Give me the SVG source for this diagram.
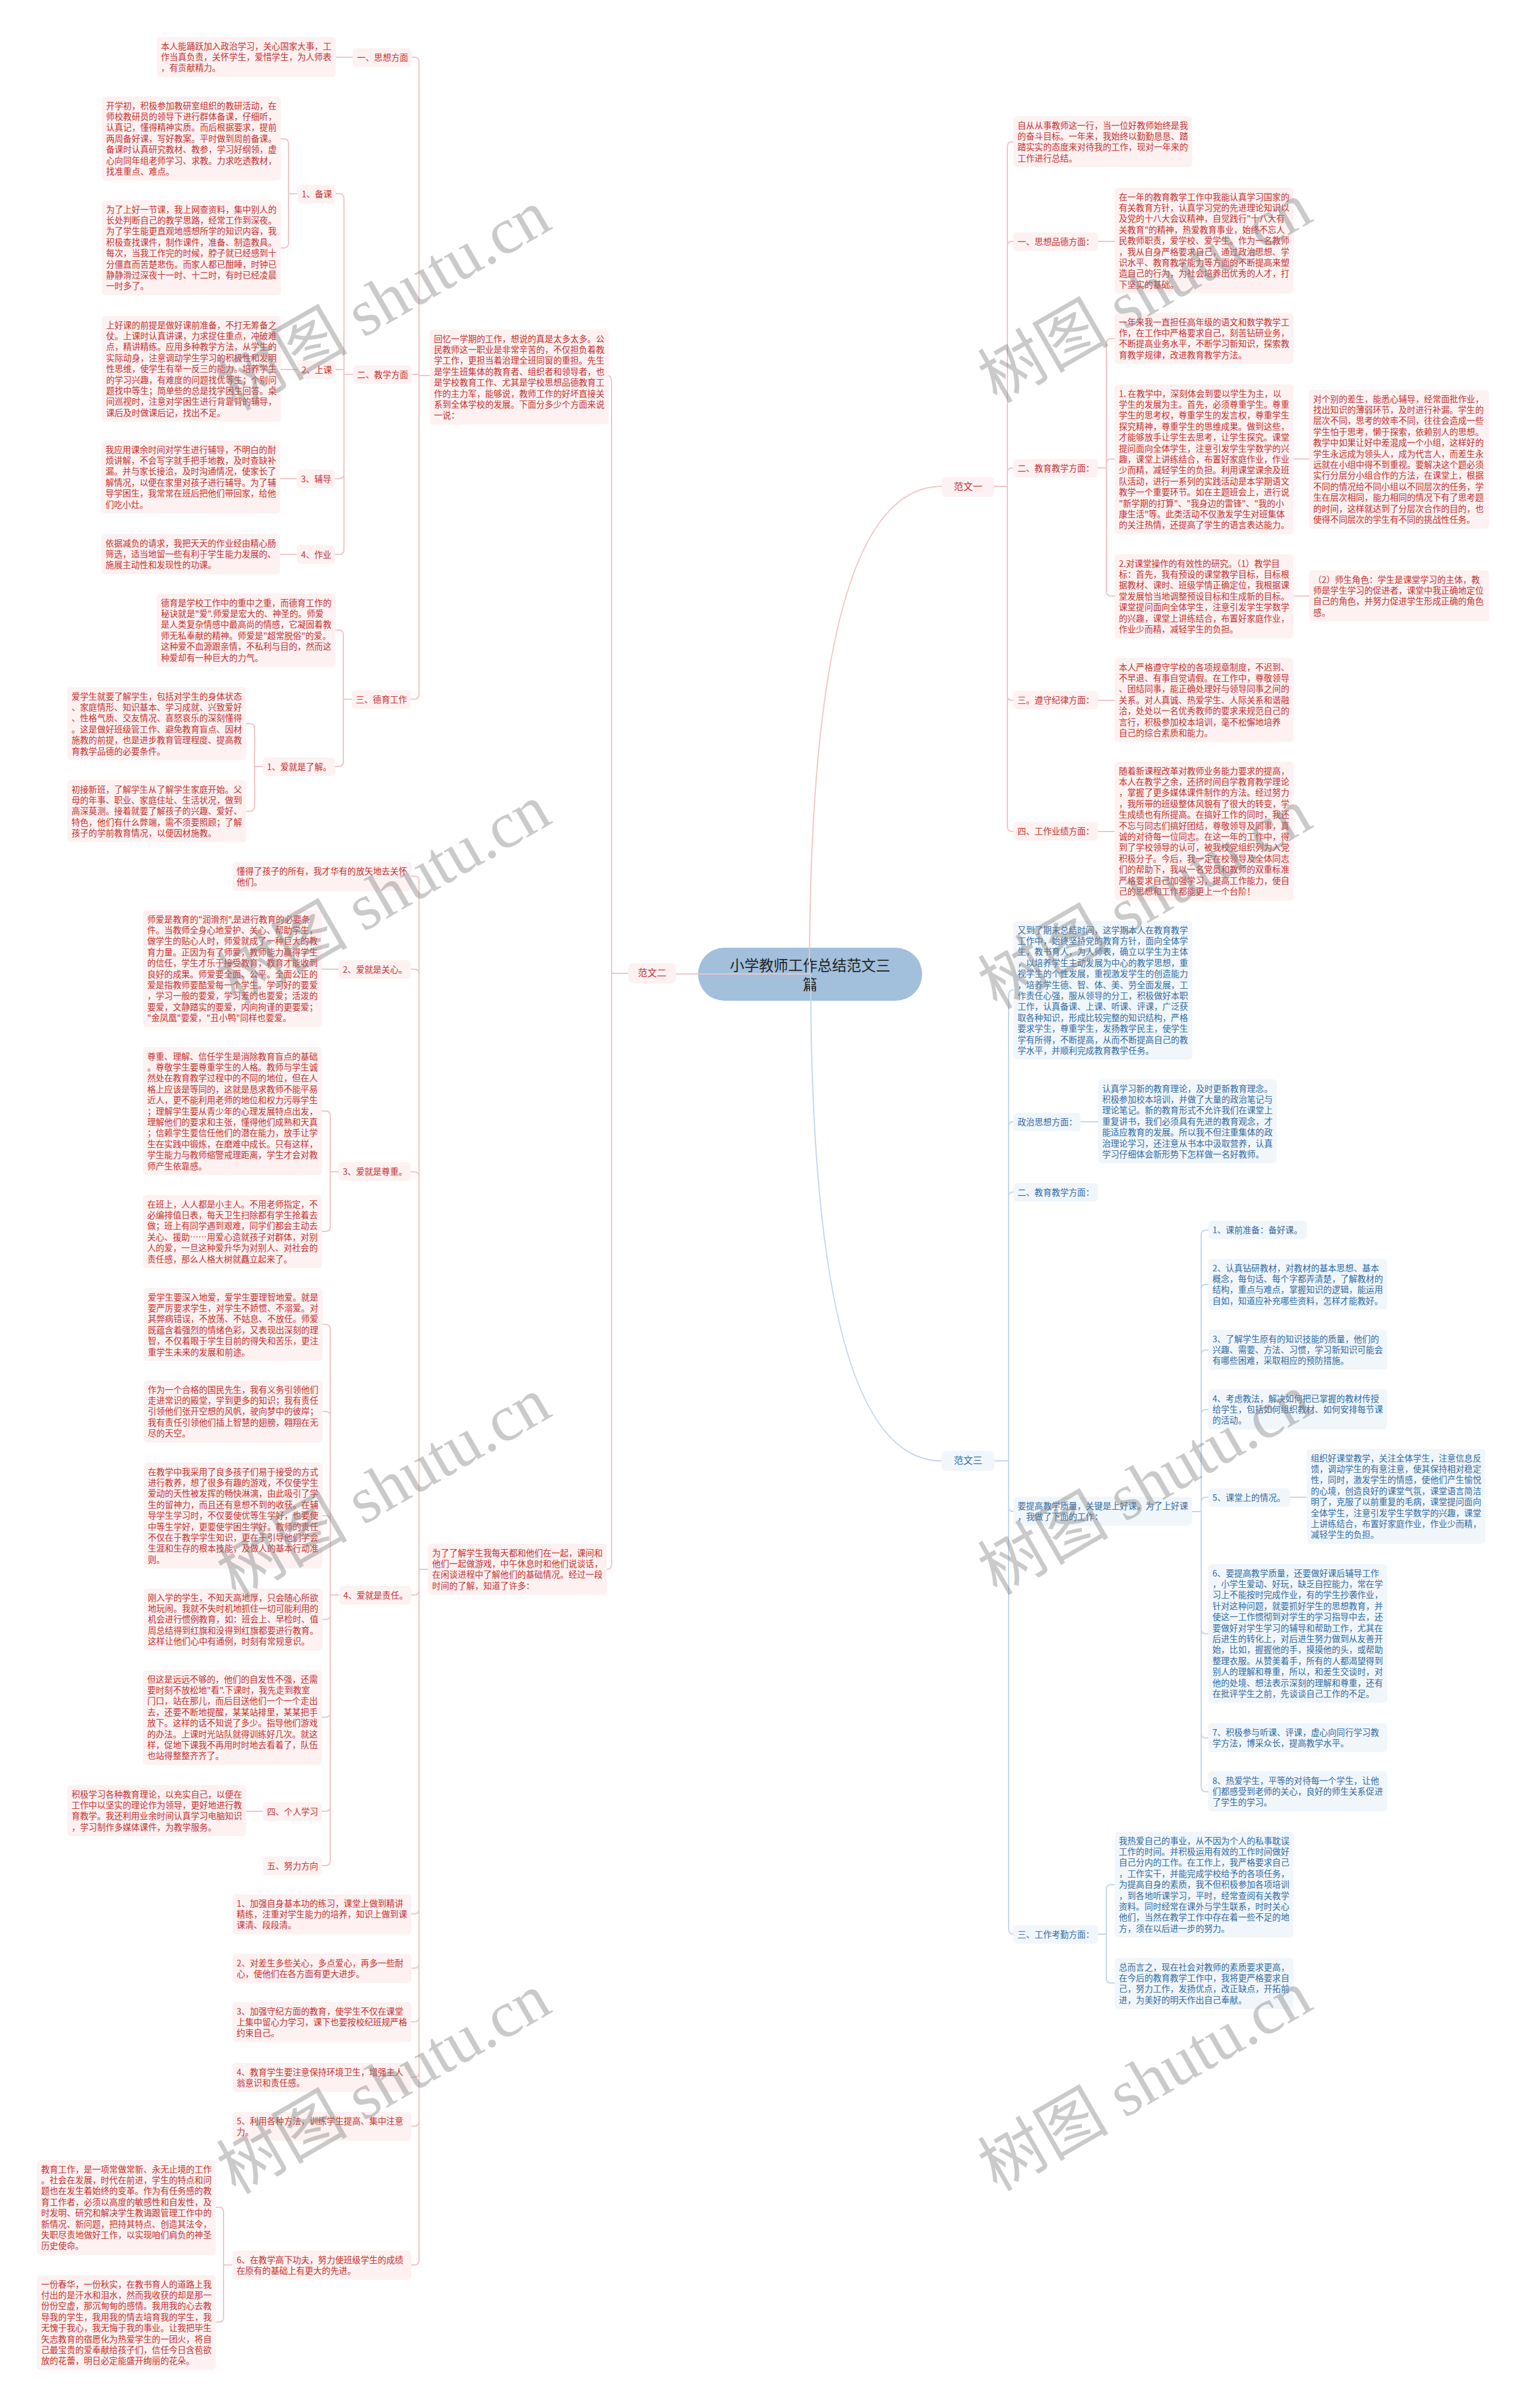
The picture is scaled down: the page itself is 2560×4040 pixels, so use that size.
<svg xmlns="http://www.w3.org/2000/svg" width="2560" height="4040" viewBox="0 0 2560 4040">
<style>
.t{font-family:"Noto Sans CJK SC","Noto Sans",sans-serif;font-size:14.3px}
.rt{fill:#c4302f}
.bt{fill:#2f6aa3}
.rb{fill:#fdf1f1}
.bb{fill:#f1f6fb}
.rl{fill:none;stroke:#f2c3c6;stroke-width:2}
.bl{fill:none;stroke:#c3d6ea;stroke-width:2}
.wm{font-family:"Liberation Serif","Noto Sans CJK SC",serif;font-size:110px;fill:#808080;fill-opacity:0.42}
</style>
<rect width="2560" height="4040" fill="#ffffff"/>
<g id="root">
<rect x="1171" y="1590" width="376" height="89" rx="44.5" fill="#a2bfdc"/>
<text x="1359" y="1629" text-anchor="middle" style="font-family:'Noto Sans CJK SC',sans-serif;font-size:24.5px;fill:#222">小学教师工作总结范文三</text>
<text x="1359" y="1661" text-anchor="middle" style="font-family:'Noto Sans CJK SC',sans-serif;font-size:24.5px;fill:#222">篇</text>
</g>
<g id="connectors">
<path class="rl" d="M1358 1634 H1134"/>
<path class="rl" d="M1358 1634 Q1358 816 1580 816"/>
<path class="bl" d="M1360 1634 Q1360 2451 1580 2451"/>
<path class="rl" d="M1054 1633 H1026 V638 Q1026 630 1018 630 H1017"/>
<path class="rl" d="M1054 1633 H1026 V2625 Q1026 2633 1018 2633"/>
<path class="rl" d="M721 630 H703 V104 Q703 96 695 96 H691"/>
<path class="rl" d="M721 630 H703 V628 H691"/>
<path class="rl" d="M721 630 H703 V1165 Q703 1173 695 1173 H689"/>
<path class="rl" d="M592 96 H563"/>
<path class="rl" d="M592 628 H577 V333 Q577 325 569 325 H563"/>
<path class="rl" d="M592 628 H577 V620 H563"/>
<path class="rl" d="M592 628 H577 V795 Q577 803 569 803 H562"/>
<path class="rl" d="M592 628 H577 V922 Q577 930 569 930 H562"/>
<path class="rl" d="M499 325 H484 V241 Q484 233 476 233 H471"/>
<path class="rl" d="M499 325 H484 V408 Q484 416 476 416 H471"/>
<path class="rl" d="M499 620 H471"/>
<path class="rl" d="M498 803 H470"/>
<path class="rl" d="M498 930 H470"/>
<path class="rl" d="M590 1173 H576 V1065 Q576 1057 568 1057 H563"/>
<path class="rl" d="M590 1173 H576 V1278 Q576 1286 568 1286 H562"/>
<path class="rl" d="M441 1286 H427 V1222 Q427 1214 419 1214 H413"/>
<path class="rl" d="M441 1286 H427 V1353 Q427 1361 419 1361 H413"/>
<path class="rl" d="M718 2633 H703 V1478 Q703 1470 695 1470 H690"/>
<path class="rl" d="M718 2633 H703 V1634 Q703 1626 695 1626 H689"/>
<path class="rl" d="M718 2633 H703 V1974 Q703 1966 695 1966 H689"/>
<path class="rl" d="M718 2633 H703 V2668 Q703 2676 695 2676 H690"/>
<path class="rl" d="M718 2633 H703 V3203 Q703 3211 695 3211 H690"/>
<path class="rl" d="M718 2633 H703 V3294 Q703 3302 695 3302 H690"/>
<path class="rl" d="M718 2633 H703 V3384 Q703 3392 695 3392 H690"/>
<path class="rl" d="M718 2633 H703 V3477 Q703 3485 695 3485 H690"/>
<path class="rl" d="M718 2633 H703 V3559 Q703 3567 695 3567 H690"/>
<path class="rl" d="M718 2633 H703 V3792 Q703 3800 695 3800 H690"/>
<path class="rl" d="M568 1626 H540"/>
<path class="rl" d="M568 1966 H554 V1872 Q554 1864 546 1864 H540"/>
<path class="rl" d="M568 1966 H554 V2058 Q554 2066 546 2066 H540"/>
<path class="rl" d="M569 2676 H554 V2230 Q554 2222 546 2222 H541"/>
<path class="rl" d="M569 2676 H554 V2376 Q554 2368 546 2368 H541"/>
<path class="rl" d="M569 2676 H554 V2551 Q554 2543 546 2543 H541"/>
<path class="rl" d="M569 2676 H554 V2709 Q554 2717 546 2717 H541"/>
<path class="rl" d="M569 2676 H554 V2873 Q554 2881 546 2881 H540"/>
<path class="rl" d="M569 2676 H554 V3031 Q554 3039 546 3039 H540"/>
<path class="rl" d="M569 2676 H554 V3122 Q554 3130 546 3130 H540"/>
<path class="rl" d="M441 3039 H413"/>
<path class="rl" d="M390 3800 H375 V3711 Q375 3703 367 3703 H362"/>
<path class="rl" d="M390 3800 H375 V3888 Q375 3896 367 3896 H362"/>
<path class="rl" d="M1668 816 H1690 V246 Q1690 238 1698 238 H1700"/>
<path class="rl" d="M1668 816 H1690 V413 Q1690 405 1698 405 H1700"/>
<path class="rl" d="M1668 816 H1690 V793 Q1690 785 1698 785 H1700"/>
<path class="rl" d="M1668 816 H1690 V1167 Q1690 1175 1698 1175 H1700"/>
<path class="rl" d="M1668 816 H1690 V1387 Q1690 1395 1698 1395 H1700"/>
<path class="rl" d="M1842 405 H1870"/>
<path class="rl" d="M1842 785 H1856 V576 Q1856 568 1864 568 H1870"/>
<path class="rl" d="M1842 785 H1856 V778 Q1856 770 1864 770 H1870"/>
<path class="rl" d="M1842 785 H1856 V992 Q1856 1000 1864 1000 H1870"/>
<path class="rl" d="M2170 770 H2196"/>
<path class="rl" d="M2170 1000 H2196"/>
<path class="rl" d="M1842 1175 H1870"/>
<path class="rl" d="M1842 1395 H1870"/>
<path class="bl" d="M1668 2451 H1692 V1669 Q1692 1661 1700 1661"/>
<path class="bl" d="M1668 2451 H1692 V1890 Q1692 1882 1700 1882"/>
<path class="bl" d="M1668 2451 H1692 V2008 Q1692 2000 1700 2000"/>
<path class="bl" d="M1668 2451 H1692 V2528 Q1692 2536 1700 2536"/>
<path class="bl" d="M1668 2451 H1692 V3237 Q1692 3245 1700 3245"/>
<path class="bl" d="M1813 1882 H1842"/>
<path class="bl" d="M2000 2536 H2015 V2072 Q2015 2064 2023 2064 H2027"/>
<path class="bl" d="M2000 2536 H2015 V2163 Q2015 2155 2023 2155 H2027"/>
<path class="bl" d="M2000 2536 H2015 V2273 Q2015 2265 2023 2265 H2027"/>
<path class="bl" d="M2000 2536 H2015 V2373 Q2015 2365 2023 2365 H2027"/>
<path class="bl" d="M2000 2536 H2015 V2520 Q2015 2512 2023 2512 H2027"/>
<path class="bl" d="M2000 2536 H2015 V2733 Q2015 2741 2023 2741 H2027"/>
<path class="bl" d="M2000 2536 H2015 V2908 Q2015 2916 2023 2916 H2027"/>
<path class="bl" d="M2000 2536 H2015 V2998 Q2015 3006 2023 3006 H2027"/>
<path class="bl" d="M2164 2512 H2192"/>
<path class="bl" d="M1842 3245 H1856 V3170 Q1856 3162 1864 3162 H1870"/>
<path class="bl" d="M1842 3245 H1856 V3319 Q1856 3327 1864 3327 H1870"/>
</g>

<g id="fanwen2"><rect class="rb" x="1054" y="1616" width="80" height="34" rx="8"/><text class="t rt" x="1094" y="1638" text-anchor="middle" style="font-size:16px">范文二</text></g>
<g id="huiyi"><rect class="rb" x="721" y="553" width="300" height="159.2" rx="6"/><text class="t rt" x="728" y="573.5"><tspan x="728" dy="0">回忆一学期的工作，想说的真是太多太多。公</tspan><tspan x="728" dy="18.4">民教师这一职业是非常辛苦的，不仅担负着教</tspan><tspan x="728" dy="18.4">学工作，更担当着治理全班同窗的重担。先生</tspan><tspan x="728" dy="18.4">是学生班集体的教育者、组织者和领导者，也</tspan><tspan x="728" dy="18.4">是学校教育工作、尤其是学校思想品德教育工</tspan><tspan x="728" dy="18.4">作的主力军，能够说，教师工作的好坏直接关</tspan><tspan x="728" dy="18.4">系到全体学校的发展。下面分多少个方面来说</tspan><tspan x="728" dy="18.4">一说：</tspan></text></g>
<g id="n-sixiang"><rect class="rb" x="592" y="81" width="99" height="31" rx="6"/><text class="t rt" x="599" y="101.5">一、思想方面</text></g>
<g id="b-benren"><rect class="rb" x="263" y="62" width="300" height="67.2" rx="6"/><text class="t rt" x="270" y="82.5"><tspan x="270" dy="0">本人能踊跃加入政治学习，关心国家大事，工</tspan><tspan x="270" dy="18.4">作当真负责，关怀学生，爱惜学生，为人师表</tspan><tspan x="270" dy="18.4">，有贡献精力。</tspan></text></g>
<g id="n-jiaoxue"><rect class="rb" x="592" y="613" width="99" height="31" rx="6"/><text class="t rt" x="599" y="633.5">二、教学方面</text></g>
<g id="n-beike"><rect class="rb" x="499" y="310" width="64" height="31" rx="6"/><text class="t rt" x="506" y="330.5">1、备课</text></g>
<g id="b-kaixue"><rect class="rb" x="171" y="162" width="300" height="140.8" rx="6"/><text class="t rt" x="178" y="182.5"><tspan x="178" dy="0">开学初，积极参加教研室组织的教研活动，在</tspan><tspan x="178" dy="18.4">师校教研员的领导下进行群体备课，仔细听，</tspan><tspan x="178" dy="18.4">认真记，懂得精神实质。而后根据要求，提前</tspan><tspan x="178" dy="18.4">两周备好课，写好教案。平时做到周前备课。</tspan><tspan x="178" dy="18.4">备课时认真研究教材、教参，学习好纲领，虚</tspan><tspan x="178" dy="18.4">心向同年组老师学习、求教。力求吃透教材，</tspan><tspan x="178" dy="18.4">找准重点、难点。</tspan></text></g>
<g id="b-shanghao"><rect class="rb" x="171" y="336" width="300" height="159.2" rx="6"/><text class="t rt" x="178" y="356.5"><tspan x="178" dy="0">为了上好一节课，我上网查资料，集中别人的</tspan><tspan x="178" dy="18.4">长处判断自己的教学思路，经常工作到深夜。</tspan><tspan x="178" dy="18.4">为了学生能更直观地感想所学的知识内容，我</tspan><tspan x="178" dy="18.4">积极查找课件，制作课件，准备、制造教具。</tspan><tspan x="178" dy="18.4">每次，当我工作完的时候，脖子就已经感到十</tspan><tspan x="178" dy="18.4">分僵直而苦楚悲伤。而家人都已酣睡，时钟已</tspan><tspan x="178" dy="18.4">静静滑过深夜十一时、十二时，有时已经凌晨</tspan><tspan x="178" dy="18.4">一时多了。</tspan></text></g>
<g id="n-shangke"><rect class="rb" x="499" y="605" width="64" height="31" rx="6"/><text class="t rt" x="506" y="625.5">2、上课</text></g>
<g id="b-qianti"><rect class="rb" x="171" y="530" width="300" height="177.6" rx="6"/><text class="t rt" x="178" y="550.5"><tspan x="178" dy="0">上好课的前提是做好课前准备，不打无筹备之</tspan><tspan x="178" dy="18.4">仗。上课时认真讲课，力求捉住重点，冲破难</tspan><tspan x="178" dy="18.4">点，精讲精练。应用多种教学方法，从学生的</tspan><tspan x="178" dy="18.4">实际动身，注意调动学生学习的积极性和发明</tspan><tspan x="178" dy="18.4">性思维，使学生有举一反三的能力。培养学生</tspan><tspan x="178" dy="18.4">的学习兴趣，有难度的问题找优等生；个别问</tspan><tspan x="178" dy="18.4">题找中等生；简单些的总是找学困生回答。桌</tspan><tspan x="178" dy="18.4">间巡视时，注意对学困生进行背靠背的辅导，</tspan><tspan x="178" dy="18.4">课后及时做课后记，找出不足。</tspan></text></g>
<g id="n-fudao"><rect class="rb" x="498" y="788" width="64" height="31" rx="6"/><text class="t rt" x="505" y="808.5">3、辅导</text></g>
<g id="b-yingyong"><rect class="rb" x="170" y="739" width="300" height="122.4" rx="6"/><text class="t rt" x="177" y="759.5"><tspan x="177" dy="0">我应用课余时间对学生进行辅导，不明白的耐</tspan><tspan x="177" dy="18.4">烦讲解，不会写字就手把手地教，及时查缺补</tspan><tspan x="177" dy="18.4">漏。并与家长接洽，及时沟通情况，使家长了</tspan><tspan x="177" dy="18.4">解情况，以便在家里对孩子进行辅导。为了辅</tspan><tspan x="177" dy="18.4">导学困生，我常常在班后把他们带回家，给他</tspan><tspan x="177" dy="18.4">们吃小灶。</tspan></text></g>
<g id="n-zuoye"><rect class="rb" x="498" y="915" width="64" height="31" rx="6"/><text class="t rt" x="505" y="935.5">4、作业</text></g>
<g id="b-jianfu"><rect class="rb" x="170" y="896" width="300" height="67.2" rx="6"/><text class="t rt" x="177" y="916.5"><tspan x="177" dy="0">依据减负的请求，我把天天的作业经由精心肠</tspan><tspan x="177" dy="18.4">筛选，适当地留一些有利于学生能力发展的、</tspan><tspan x="177" dy="18.4">施展主动性和发现性的功课。</tspan></text></g>
<g id="n-deyu"><rect class="rb" x="590" y="1158" width="99" height="31" rx="6"/><text class="t rt" x="597" y="1178.5">三、德育工作</text></g>
<g id="b-deyu"><rect class="rb" x="263" y="996" width="300" height="122.4" rx="6"/><text class="t rt" x="270" y="1016.5"><tspan x="270" dy="0">德育是学校工作中的重中之重，而德育工作的</tspan><tspan x="270" dy="18.4">秘诀就是"爱".师爱是宏大的、神圣的。师爱</tspan><tspan x="270" dy="18.4">是人类复杂情感中最高尚的情感，它凝固着教</tspan><tspan x="270" dy="18.4">师无私奉献的精神。师爱是"超常脱俗"的爱。</tspan><tspan x="270" dy="18.4">这种爱不血源跟亲情，不私利与目的，然而这</tspan><tspan x="270" dy="18.4">种爱却有一种巨大的力气。</tspan></text></g>
<g id="n-liaojie"><rect class="rb" x="441" y="1271" width="121" height="31" rx="6"/><text class="t rt" x="448" y="1291.5">1、爱就是了解。</text></g>
<g id="b-aixuesheng"><rect class="rb" x="113" y="1153" width="300" height="122.4" rx="6"/><text class="t rt" x="120" y="1173.5"><tspan x="120" dy="0">爱学生就要了解学生，包括对学生的身体状态</tspan><tspan x="120" dy="18.4">、家庭情形、知识基本、学习成就、兴致爱好</tspan><tspan x="120" dy="18.4">、性格气质、交友情况、喜怒哀乐的深刻懂得</tspan><tspan x="120" dy="18.4">。这是做好班级管工作、避免教育盲点、因材</tspan><tspan x="120" dy="18.4">施教的前提，也是进步教育管理程度、提高教</tspan><tspan x="120" dy="18.4">育教学品德的必要条件。</tspan></text></g>
<g id="b-chujie"><rect class="rb" x="113" y="1309" width="300" height="104" rx="6"/><text class="t rt" x="120" y="1329.5"><tspan x="120" dy="0">初接新班，了解学生从了解学生家庭开始。父</tspan><tspan x="120" dy="18.4">母的年事、职业、家庭住址、生活状况，做到</tspan><tspan x="120" dy="18.4">高深莫测。接着就要了解孩子的兴趣、爱好、</tspan><tspan x="120" dy="18.4">特色，他们有什么弊端，需不须要照顾；了解</tspan><tspan x="120" dy="18.4">孩子的学前教育情况，以便因材施教。</tspan></text></g>
<g id="weileliaojie"><rect class="rb" x="718" y="2590" width="300" height="85.6" rx="6"/><text class="t rt" x="725" y="2610.5"><tspan x="725" dy="0">为了了解学生我每天都和他们在一起，课间和</tspan><tspan x="725" dy="18.4">他们一起做游戏，中午休息时和他们说谈话，</tspan><tspan x="725" dy="18.4">在闲谈进程中了解他们的基础情况。经过一段</tspan><tspan x="725" dy="18.4">时间的了解，知道了许多：</tspan></text></g>
<g id="b-dongde"><rect class="rb" x="390" y="1446" width="300" height="48.8" rx="6"/><text class="t rt" x="397" y="1466.5"><tspan x="397" dy="0">懂得了孩子的所有，我才华有的放矢地去关怀</tspan><tspan x="397" dy="18.4">他们。</tspan></text></g>
<g id="n-guanxin"><rect class="rb" x="568" y="1611" width="121" height="31" rx="6"/><text class="t rt" x="575" y="1631.5">2、爱就是关心。</text></g>
<g id="b-runhua"><rect class="rb" x="240" y="1527" width="300" height="196" rx="6"/><text class="t rt" x="247" y="1547.5"><tspan x="247" dy="0">师爱是教育的"润滑剂",是进行教育的必要条</tspan><tspan x="247" dy="18.4">件。当教师全身心地爱护、关心、帮助学生，</tspan><tspan x="247" dy="18.4">做学生的贴心人时，师爱就成了一种巨大的教</tspan><tspan x="247" dy="18.4">育力量。正因为有了师爱，教师能力赢得学生</tspan><tspan x="247" dy="18.4">的信任，学生才乐于接受教育，教育才能收到</tspan><tspan x="247" dy="18.4">良好的成果。师爱要全面、公平。全面公正的</tspan><tspan x="247" dy="18.4">爱是指教师要酷爱每一个学生。学习好的要爱</tspan><tspan x="247" dy="18.4">，学习一般的要爱，学习差的也要爱；活泼的</tspan><tspan x="247" dy="18.4">要爱，文静踏实的要爱，内向拘谨的更要爱；</tspan><tspan x="247" dy="18.4">"金凤凰"要爱，"丑小鸭"同样也要爱。</tspan></text></g>
<g id="n-zunzhong"><rect class="rb" x="568" y="1950" width="121" height="31" rx="6"/><text class="t rt" x="575" y="1970.5">3、爱就是尊重。</text></g>
<g id="b-zunzhong"><rect class="rb" x="240" y="1757" width="300" height="214.4" rx="6"/><text class="t rt" x="247" y="1777.5"><tspan x="247" dy="0">尊重、理解、信任学生是消除教育盲点的基础</tspan><tspan x="247" dy="18.4">。尊敬学生要尊重学生的人格。教师与学生诚</tspan><tspan x="247" dy="18.4">然处在教育教学过程中的不同的地位，但在人</tspan><tspan x="247" dy="18.4">格上应该是等同的，这就是恳求教师不能平易</tspan><tspan x="247" dy="18.4">近人，更不能利用老师的地位和权力污辱学生</tspan><tspan x="247" dy="18.4">；理解学生要从青少年的心理发展特点出发，</tspan><tspan x="247" dy="18.4">理解他们的要求和主张，懂得他们成熟和天真</tspan><tspan x="247" dy="18.4">；信赖学生要信任他们的潜在能力，放手让学</tspan><tspan x="247" dy="18.4">生在实践中锻炼，在磨难中成长。只有这样，</tspan><tspan x="247" dy="18.4">学生能力与教师缩警戒理距离，学生才会对教</tspan><tspan x="247" dy="18.4">师产生依靠感。</tspan></text></g>
<g id="b-banshang"><rect class="rb" x="240" y="2005" width="300" height="122.4" rx="6"/><text class="t rt" x="247" y="2025.5"><tspan x="247" dy="0">在班上，人人都是小主人。不用老师指定，不</tspan><tspan x="247" dy="18.4">必编排值日表，每天卫生扫除都有学生抢着去</tspan><tspan x="247" dy="18.4">做；班上有同学遇到艰难，同学们都会主动去</tspan><tspan x="247" dy="18.4">关心、援助……用爱心造就孩子对群体，对别</tspan><tspan x="247" dy="18.4">人的爱，一旦这种爱升华为对别人、对社会的</tspan><tspan x="247" dy="18.4">责任感，那么人格大树就矗立起来了。</tspan></text></g>
<g id="n-zeren"><rect class="rb" x="569" y="2661" width="121" height="31" rx="6"/><text class="t rt" x="576" y="2681.5">4、爱就是责任。</text></g>
<g id="b-shenru"><rect class="rb" x="241" y="2161" width="300" height="122.4" rx="6"/><text class="t rt" x="248" y="2181.5"><tspan x="248" dy="0">爱学生要深入地爱，爱学生要理智地爱。就是</tspan><tspan x="248" dy="18.4">要严厉要求学生，对学生不娇惯、不溺爱。对</tspan><tspan x="248" dy="18.4">其弊病错误，不放荡、不姑息、不放任。师爱</tspan><tspan x="248" dy="18.4">既蕴含着强烈的情绪色彩，又表现出深刻的理</tspan><tspan x="248" dy="18.4">智，不仅着眼于学生目前的得失和苦乐，更注</tspan><tspan x="248" dy="18.4">重学生未来的发展和前途。</tspan></text></g>
<g id="b-hege"><rect class="rb" x="241" y="2316" width="300" height="104" rx="6"/><text class="t rt" x="248" y="2336.5"><tspan x="248" dy="0">作为一个合格的国民先生，我有义务引领他们</tspan><tspan x="248" dy="18.4">走进常识的殿堂，学到更多的知识；我有责任</tspan><tspan x="248" dy="18.4">引领他们张开空想的风帆，驶向梦中的彼岸；</tspan><tspan x="248" dy="18.4">我有责任引领他们插上智慧的翅膀，翱翔在无</tspan><tspan x="248" dy="18.4">尽的天空。</tspan></text></g>
<g id="b-caiyong"><rect class="rb" x="241" y="2454" width="300" height="177.6" rx="6"/><text class="t rt" x="248" y="2474.5"><tspan x="248" dy="0">在教学中我采用了良多孩子们易于接受的方式</tspan><tspan x="248" dy="18.4">进行教养，想了很多有趣的游戏，不仅使学生</tspan><tspan x="248" dy="18.4">爱动的天性被发挥的畅快淋漓，由此吸引了学</tspan><tspan x="248" dy="18.4">生的留神力，而且还有意想不到的收获。在辅</tspan><tspan x="248" dy="18.4">导学生学习时，不仅要使优等生学好，也要使</tspan><tspan x="248" dy="18.4">中等生学好，更要使学困生学好。教师的责任</tspan><tspan x="248" dy="18.4">不仅在于教学学生知识，更在于引导他们学会</tspan><tspan x="248" dy="18.4">生涯和生存的根本技能，及做人的基本行动准</tspan><tspan x="248" dy="18.4">则。</tspan></text></g>
<g id="b-ruxue"><rect class="rb" x="241" y="2665" width="300" height="104" rx="6"/><text class="t rt" x="248" y="2685.5"><tspan x="248" dy="0">刚入学的学生，不知天高地厚，只会随心所欲</tspan><tspan x="248" dy="18.4">地玩闹。我就不失时机地抓住一切可能利用的</tspan><tspan x="248" dy="18.4">机会进行惯例教育，如：班会上、早检时、值</tspan><tspan x="248" dy="18.4">周总结得到红旗和没得到红旗都要进行教育。</tspan><tspan x="248" dy="18.4">这样让他们心中有通例，时刻有常规意识。</tspan></text></g>
<g id="b-yuanyuan"><rect class="rb" x="240" y="2802" width="300" height="159.2" rx="6"/><text class="t rt" x="247" y="2822.5"><tspan x="247" dy="0">但这是远远不够的，他们的自发性不强，还需</tspan><tspan x="247" dy="18.4">要时刻不放松地"看".下课时，我先走到教室</tspan><tspan x="247" dy="18.4">门口，站在那儿，而后目送他们一个一个走出</tspan><tspan x="247" dy="18.4">去，还要不断地提醒，某某站排里，某某把手</tspan><tspan x="247" dy="18.4">放下。这样的话不知说了多少。指导他们游戏</tspan><tspan x="247" dy="18.4">的办法。上课时光站队就得训练好几次。就这</tspan><tspan x="247" dy="18.4">样，促地下课我不再用时时地去看着了，队伍</tspan><tspan x="247" dy="18.4">也站得整整齐齐了。</tspan></text></g>
<g id="n-geren"><rect class="rb" x="441" y="3024" width="99" height="31" rx="6"/><text class="t rt" x="448" y="3044.5">四、个人学习</text></g>
<g id="b-lilun"><rect class="rb" x="113" y="2995" width="300" height="85.6" rx="6"/><text class="t rt" x="120" y="3015.5"><tspan x="120" dy="0">积极学习各种教育理论，以充实自己，以便在</tspan><tspan x="120" dy="18.4">工作中以坚实的理论作为领导，更好地进行教</tspan><tspan x="120" dy="18.4">育教学。我还利用业余时间认真学习电脑知识</tspan><tspan x="120" dy="18.4">，学习制作多媒体课件，为教学服务。</tspan></text></g>
<g id="n-nuli"><rect class="rb" x="441" y="3115" width="99" height="31" rx="6"/><text class="t rt" x="448" y="3135.5">五、努力方向</text></g>
<g id="i1"><rect class="rb" x="390" y="3178" width="300" height="67.2" rx="6"/><text class="t rt" x="397" y="3198.5"><tspan x="397" dy="0">1、加强自身基本功的练习，课堂上做到精讲</tspan><tspan x="397" dy="18.4">精练，注重对学生能力的培养，知识上做到课</tspan><tspan x="397" dy="18.4">课清、段段清。</tspan></text></g>
<g id="i2"><rect class="rb" x="390" y="3278" width="300" height="48.8" rx="6"/><text class="t rt" x="397" y="3298.5"><tspan x="397" dy="0">2、对差生多些关心，多点爱心，再多一些耐</tspan><tspan x="397" dy="18.4">心，使他们在各方面有更大进步。</tspan></text></g>
<g id="i3"><rect class="rb" x="390" y="3359" width="300" height="67.2" rx="6"/><text class="t rt" x="397" y="3379.5"><tspan x="397" dy="0">3、加强守纪方面的教育，使学生不仅在课堂</tspan><tspan x="397" dy="18.4">上集中留心力学习，课下也要按校纪班规严格</tspan><tspan x="397" dy="18.4">约束自己。</tspan></text></g>
<g id="i4"><rect class="rb" x="390" y="3461" width="300" height="48.8" rx="6"/><text class="t rt" x="397" y="3481.5"><tspan x="397" dy="0">4、教育学生要注意保持环境卫生，增强主人</tspan><tspan x="397" dy="18.4">翁意识和责任感。</tspan></text></g>
<g id="i5"><rect class="rb" x="390" y="3543" width="300" height="48.8" rx="6"/><text class="t rt" x="397" y="3563.5"><tspan x="397" dy="0">5、利用各种方法，训练学生提高、集中注意</tspan><tspan x="397" dy="18.4">力。</tspan></text></g>
<g id="i6"><rect class="rb" x="390" y="3776" width="300" height="48.8" rx="6"/><text class="t rt" x="397" y="3796.5"><tspan x="397" dy="0">6、在教学高下功夫，努力使班级学生的成绩</tspan><tspan x="397" dy="18.4">在原有的基础上有更大的先进。</tspan></text></g>
<g id="b-jiaoyugongzuo"><rect class="rb" x="62" y="3624" width="300" height="159.2" rx="6"/><text class="t rt" x="69" y="3644.5"><tspan x="69" dy="0">教育工作，是一项常做常新、永无止境的工作</tspan><tspan x="69" dy="18.4">。社会在发展，时代在前进，学生的特点和问</tspan><tspan x="69" dy="18.4">题也在发生着始终的变革。作为有任务感的教</tspan><tspan x="69" dy="18.4">育工作者，必须以高度的敏感性和自发性，及</tspan><tspan x="69" dy="18.4">时发明、研究和解决学生教诲跟管理工作中的</tspan><tspan x="69" dy="18.4">新情况、新问题，把持其特点、创造其法令，</tspan><tspan x="69" dy="18.4">失职尽责地做好工作，以实现咱们肩负的神圣</tspan><tspan x="69" dy="18.4">历史使命。</tspan></text></g>
<g id="b-chunhua"><rect class="rb" x="62" y="3817" width="300" height="159.2" rx="6"/><text class="t rt" x="69" y="3837.5"><tspan x="69" dy="0">一份春华，一份秋实，在教书育人的道路上我</tspan><tspan x="69" dy="18.4">付出的是汗水和泪水，然而我收获的却是那一</tspan><tspan x="69" dy="18.4">份份空虚，那沉甸甸的感情。我用我的心去教</tspan><tspan x="69" dy="18.4">导我的学生，我用我的情去培育我的学生，我</tspan><tspan x="69" dy="18.4">无愧于我心，我无悔于我的事业。让我把毕生</tspan><tspan x="69" dy="18.4">矢志教育的宿愿化为热爱学生的一团火，将自</tspan><tspan x="69" dy="18.4">己最宝贵的爱奉献给孩子们，信任今日含苞欲</tspan><tspan x="69" dy="18.4">放的花蕾，明日必定能盛开绚丽的花朵。</tspan></text></g>

<g id="fanwen1"><rect class="rb" x="1580" y="800" width="88" height="34" rx="8"/><text class="t rt" x="1624" y="822" text-anchor="middle" style="font-size:16px">范文一</text></g>
<g id="b-zicong"><rect class="rb" x="1700" y="195" width="300" height="85.6" rx="6"/><text class="t rt" x="1707" y="215.5"><tspan x="1707" dy="0">自从从事教师这一行，当一位好教师始终是我</tspan><tspan x="1707" dy="18.4">的奋斗目标。一年来，我始终以勤勤恳恳、踏</tspan><tspan x="1707" dy="18.4">踏实实的态度来对待我的工作，现对一年来的</tspan><tspan x="1707" dy="18.4">工作进行总结。</tspan></text></g>
<g id="n-pinde"><rect class="rb" x="1700" y="390" width="142" height="31" rx="6"/><text class="t rt" x="1707" y="410.5">一、思想品德方面：</text></g>
<g id="b-yinian"><rect class="rb" x="1870" y="315" width="300" height="177.6" rx="6"/><text class="t rt" x="1877" y="335.5"><tspan x="1877" dy="0">在一年的教育教学工作中我能认真学习国家的</tspan><tspan x="1877" dy="18.4">有关教育方针，认真学习党的先进理论知识以</tspan><tspan x="1877" dy="18.4">及党的十八大会议精神，自觉践行"十八大有</tspan><tspan x="1877" dy="18.4">关教育"的精神，热爱教育事业，始终不忘人</tspan><tspan x="1877" dy="18.4">民教师职责，爱学校、爱学生。作为一名教师</tspan><tspan x="1877" dy="18.4">，我从自身严格要求自己，通过政治思想、学</tspan><tspan x="1877" dy="18.4">识水平、教育教学能力等方面的不断提高来塑</tspan><tspan x="1877" dy="18.4">造自己的行为，为社会培养出优秀的人才，打</tspan><tspan x="1877" dy="18.4">下坚实的基础。</tspan></text></g>
<g id="n-jiaoyujiaoxue1"><rect class="rb" x="1700" y="770" width="142" height="31" rx="6"/><text class="t rt" x="1707" y="790.5">二、教育教学方面：</text></g>
<g id="b-danren"><rect class="rb" x="1870" y="525" width="300" height="85.6" rx="6"/><text class="t rt" x="1877" y="545.5"><tspan x="1877" dy="0">一年来我一直担任高年级的语文和数学教学工</tspan><tspan x="1877" dy="18.4">作，在工作中严格要求自己，刻苦钻研业务，</tspan><tspan x="1877" dy="18.4">不断提高业务水平，不断学习新知识，探索教</tspan><tspan x="1877" dy="18.4">育教学规律，改进教育教学方法。</tspan></text></g>
<g id="b-zaijiaoxue"><rect class="rb" x="1870" y="645" width="300" height="251.2" rx="6"/><text class="t rt" x="1877" y="665.5"><tspan x="1877" dy="0">1. 在教学中，深刻体会到要以学生为主，以</tspan><tspan x="1877" dy="18.4">学生的发展为主。首先，必须尊重学生。尊重</tspan><tspan x="1877" dy="18.4">学生的思考权，尊重学生的发言权，尊重学生</tspan><tspan x="1877" dy="18.4">探究精神，尊重学生的思维成果。做到这些，</tspan><tspan x="1877" dy="18.4">才能够放手让学生去思考，让学生探究。课堂</tspan><tspan x="1877" dy="18.4">提问面向全体学生，注意引发学生学数学的兴</tspan><tspan x="1877" dy="18.4">趣，课堂上讲练结合，布置好家庭作业，作业</tspan><tspan x="1877" dy="18.4">少而精，减轻学生的负担。利用课堂课余及班</tspan><tspan x="1877" dy="18.4">队活动，进行一系列的实践活动是本学期语文</tspan><tspan x="1877" dy="18.4">教学一个重要环节。如在主题班会上，进行说</tspan><tspan x="1877" dy="18.4">"新学期的打算"、"我身边的雷锋"、"我的小</tspan><tspan x="1877" dy="18.4">康生活"等。此类活动不仅激发学生对班集体</tspan><tspan x="1877" dy="18.4">的关注热情，还提高了学生的语言表达能力。</tspan></text></g>
<g id="b-chasheng"><rect class="rb" x="2196" y="654" width="302" height="232.8" rx="6"/><text class="t rt" x="2203" y="674.5"><tspan x="2203" dy="0">对个别的差生，能悉心辅导，经常面批作业，</tspan><tspan x="2203" dy="18.4">找出知识的薄弱环节，及时进行补漏。学生的</tspan><tspan x="2203" dy="18.4">层次不同，思考的效率不同，往往会造成一些</tspan><tspan x="2203" dy="18.4">学生怕于思考，懒于探索，依赖别人的思想。</tspan><tspan x="2203" dy="18.4">教学中如果让好中差混成一个小组，这样好的</tspan><tspan x="2203" dy="18.4">学生永远成为领头人，成为代言人，而差生永</tspan><tspan x="2203" dy="18.4">远就在小组中得不到重视。要解决这个题必须</tspan><tspan x="2203" dy="18.4">实行分层分小组合作的方法，在课堂上，根据</tspan><tspan x="2203" dy="18.4">不同的情况给不同小组以不同层次的任务，学</tspan><tspan x="2203" dy="18.4">生在层次相同，能力相同的情况下有了思考题</tspan><tspan x="2203" dy="18.4">的时间，这样就达到了分层次合作的目的，也</tspan><tspan x="2203" dy="18.4">使得不同层次的学生有不同的挑战性任务。</tspan></text></g>
<g id="b-ketang"><rect class="rb" x="1870" y="930" width="300" height="140.8" rx="6"/><text class="t rt" x="1877" y="950.5"><tspan x="1877" dy="0">2.对课堂操作的有效性的研究。（1）教学目</tspan><tspan x="1877" dy="18.4">标：首先，我有预设的课堂教学目标，目标根</tspan><tspan x="1877" dy="18.4">据教材、课时、班级学情正确定位，我根据课</tspan><tspan x="1877" dy="18.4">堂发展恰当地调整预设目标和生成新的目标。</tspan><tspan x="1877" dy="18.4">课堂提问面向全体学生，注意引发学生学数学</tspan><tspan x="1877" dy="18.4">的兴趣，课堂上讲练结合，布置好家庭作业，</tspan><tspan x="1877" dy="18.4">作业少而精，减轻学生的负担。</tspan></text></g>
<g id="b-juese"><rect class="rb" x="2196" y="957" width="302" height="85.6" rx="6"/><text class="t rt" x="2203" y="977.5"><tspan x="2203" dy="0">（2）师生角色：学生是课堂学习的主体，教</tspan><tspan x="2203" dy="18.4">师是学生学习的促进者，课堂中我正确地定位</tspan><tspan x="2203" dy="18.4">自己的角色，并努力促进学生形成正确的角色</tspan><tspan x="2203" dy="18.4">感。</tspan></text></g>
<g id="n-jilv"><rect class="rb" x="1700" y="1159" width="142" height="31" rx="6"/><text class="t rt" x="1707" y="1179.5">三。遵守纪律方面：</text></g>
<g id="b-zunshou"><rect class="rb" x="1870" y="1104" width="300" height="140.8" rx="6"/><text class="t rt" x="1877" y="1124.5"><tspan x="1877" dy="0">本人严格遵守学校的各项规章制度，不迟到、</tspan><tspan x="1877" dy="18.4">不早退、有事自觉请假。在工作中，尊敬领导</tspan><tspan x="1877" dy="18.4">、团结同事，能正确处理好与领导同事之间的</tspan><tspan x="1877" dy="18.4">关系。对人真诚、热爱学生、人际关系和谐融</tspan><tspan x="1877" dy="18.4">洽，处处以一名优秀教师的要求来规范自己的</tspan><tspan x="1877" dy="18.4">言行，积极参加校本培训，毫不松懈地培养</tspan><tspan x="1877" dy="18.4">自己的综合素质和能力。</tspan></text></g>
<g id="n-yeji"><rect class="rb" x="1700" y="1379" width="142" height="31" rx="6"/><text class="t rt" x="1707" y="1399.5">四、工作业绩方面：</text></g>
<g id="b-suizhe"><rect class="rb" x="1870" y="1278" width="300" height="232.8" rx="6"/><text class="t rt" x="1877" y="1298.5"><tspan x="1877" dy="0">随着新课程改革对教师业务能力要求的提高，</tspan><tspan x="1877" dy="18.4">本人在教学之余，还挤时间自学教育教学理论</tspan><tspan x="1877" dy="18.4">，掌握了更多媒体课件制作的方法。经过努力</tspan><tspan x="1877" dy="18.4">，我所带的班级整体风貌有了很大的转变，学</tspan><tspan x="1877" dy="18.4">生成绩也有所提高。在搞好工作的同时，我还</tspan><tspan x="1877" dy="18.4">不忘与同志们搞好团结，尊敬领导及同事，真</tspan><tspan x="1877" dy="18.4">诚的对待每一位同志。在这一年的工作中，得</tspan><tspan x="1877" dy="18.4">到了学校领导的认可，被我校党组织列为入党</tspan><tspan x="1877" dy="18.4">积极分子。今后，我一定在校领导及全体同志</tspan><tspan x="1877" dy="18.4">们的帮助下，我以一名党员和教师的双重标准</tspan><tspan x="1877" dy="18.4">严格要求自己加强学习，提高工作能力，使自</tspan><tspan x="1877" dy="18.4">己的思想和工作都能更上一个台阶！</tspan></text></g>

<g id="fanwen3"><rect class="bb" x="1580" y="2434" width="88" height="34" rx="8"/><text class="t bt" x="1624" y="2456" text-anchor="middle" style="font-size:16px">范文三</text></g>
<g id="b-qimo"><rect class="bb" x="1700" y="1545" width="300" height="232.8" rx="6"/><text class="t bt" x="1707" y="1565.5"><tspan x="1707" dy="0">又到了期末总结时间，这学期本人在教育教学</tspan><tspan x="1707" dy="18.4">工作中，始终坚持党的教育方针，面向全体学</tspan><tspan x="1707" dy="18.4">生，教书育人，为人师表，确立以学生为主体</tspan><tspan x="1707" dy="18.4">，以培养学生主动发展为中心的教学思想，重</tspan><tspan x="1707" dy="18.4">视学生的个性发展，重视激发学生的创造能力</tspan><tspan x="1707" dy="18.4">，培养学生德、智、体、美、劳全面发展，工</tspan><tspan x="1707" dy="18.4">作责任心强，服从领导的分工，积极做好本职</tspan><tspan x="1707" dy="18.4">工作，认真备课、上课、听课、评课，广泛获</tspan><tspan x="1707" dy="18.4">取各种知识，形成比较完整的知识结构，严格</tspan><tspan x="1707" dy="18.4">要求学生，尊重学生，发扬教学民主，使学生</tspan><tspan x="1707" dy="18.4">学有所得，不断提高，从而不断提高自己的教</tspan><tspan x="1707" dy="18.4">学水平，并顺利完成教育教学任务。</tspan></text></g>
<g id="n-zhengzhi"><rect class="bb" x="1700" y="1867" width="113" height="31" rx="6"/><text class="t bt" x="1707" y="1887.5">政治思想方面：</text></g>
<g id="b-renzhen"><rect class="bb" x="1842" y="1811" width="300" height="140.8" rx="6"/><text class="t bt" x="1849" y="1831.5"><tspan x="1849" dy="0">认真学习新的教育理论，及时更新教育理念。</tspan><tspan x="1849" dy="18.4">积极参加校本培训，并做了大量的政治笔记与</tspan><tspan x="1849" dy="18.4">理论笔记。新的教育形式不允许我们在课堂上</tspan><tspan x="1849" dy="18.4">重复讲书，我们必须具有先进的教育观念，才</tspan><tspan x="1849" dy="18.4">能适应教育的发展。所以我不但注重集体的政</tspan><tspan x="1849" dy="18.4">治理论学习，还注意从书本中汲取营养，认真</tspan><tspan x="1849" dy="18.4">学习仔细体会新形势下怎样做一名好教师。</tspan></text></g>
<g id="n-jiaoyujiaoxue3"><rect class="bb" x="1700" y="1985" width="142" height="31" rx="6"/><text class="t bt" x="1707" y="2005.5">二、教育教学方面：</text></g>
<g id="b-tigao"><rect class="bb" x="1700" y="2511" width="300" height="48.8" rx="6"/><text class="t bt" x="1707" y="2531.5"><tspan x="1707" dy="0">要提高教学质量，关键是上好课。为了上好课</tspan><tspan x="1707" dy="18.4">，我做了下面的工作：</tspan></text></g>
<g id="k1"><rect class="bb" x="2027" y="2048" width="165" height="31" rx="6"/><text class="t bt" x="2034" y="2068.5">1、课前准备：备好课。</text></g>
<g id="k2"><rect class="bb" x="2027" y="2112" width="300" height="85.6" rx="6"/><text class="t bt" x="2034" y="2132.5"><tspan x="2034" dy="0">2、认真钻研教材，对教材的基本思想、基本</tspan><tspan x="2034" dy="18.4">概念，每句话、每个字都弄清楚，了解教材的</tspan><tspan x="2034" dy="18.4">结构，重点与难点，掌握知识的逻辑，能运用</tspan><tspan x="2034" dy="18.4">自如，知道应补充哪些资料，怎样才能教好。</tspan></text></g>
<g id="k3"><rect class="bb" x="2027" y="2231" width="300" height="67.2" rx="6"/><text class="t bt" x="2034" y="2251.5"><tspan x="2034" dy="0">3、了解学生原有的知识技能的质量，他们的</tspan><tspan x="2034" dy="18.4">兴趣、需要、方法、习惯，学习新知识可能会</tspan><tspan x="2034" dy="18.4">有哪些困难，采取相应的预防措施。</tspan></text></g>
<g id="k4"><rect class="bb" x="2027" y="2331" width="300" height="67.2" rx="6"/><text class="t bt" x="2034" y="2351.5"><tspan x="2034" dy="0">4、考虑教法，解决如何把已掌握的教材传授</tspan><tspan x="2034" dy="18.4">给学生，包括如何组织教材、如何安排每节课</tspan><tspan x="2034" dy="18.4">的活动。</tspan></text></g>
<g id="k5"><rect class="bb" x="2027" y="2497" width="137" height="31" rx="6"/><text class="t bt" x="2034" y="2517.5">5、课堂上的情况。</text></g>
<g id="b-zuzhi"><rect class="bb" x="2192" y="2431" width="300" height="159.2" rx="6"/><text class="t bt" x="2199" y="2451.5"><tspan x="2199" dy="0">组织好课堂教学，关注全体学生，注意信息反</tspan><tspan x="2199" dy="18.4">馈，调动学生的有意注意，使其保持相对稳定</tspan><tspan x="2199" dy="18.4">性，同时，激发学生的情感，使他们产生愉悦</tspan><tspan x="2199" dy="18.4">的心境，创造良好的课堂气氛，课堂语言简洁</tspan><tspan x="2199" dy="18.4">明了，克服了以前重复的毛病，课堂提问面向</tspan><tspan x="2199" dy="18.4">全体学生，注意引发学生学数学的兴趣，课堂</tspan><tspan x="2199" dy="18.4">上讲练结合，布置好家庭作业，作业少而精，</tspan><tspan x="2199" dy="18.4">减轻学生的负担。</tspan></text></g>
<g id="k6"><rect class="bb" x="2027" y="2624" width="300" height="232.8" rx="6"/><text class="t bt" x="2034" y="2644.5"><tspan x="2034" dy="0">6、要提高教学质量，还要做好课后辅导工作</tspan><tspan x="2034" dy="18.4">，小学生爱动、好玩，缺乏自控能力，常在学</tspan><tspan x="2034" dy="18.4">习上不能按时完成作业，有的学生抄袭作业，</tspan><tspan x="2034" dy="18.4">针对这种问题，就要抓好学生的思想教育，并</tspan><tspan x="2034" dy="18.4">使这一工作惯彻到对学生的学习指导中去，还</tspan><tspan x="2034" dy="18.4">要做好对学生学习的辅导和帮助工作，尤其在</tspan><tspan x="2034" dy="18.4">后进生的转化上，对后进生努力做到从友善开</tspan><tspan x="2034" dy="18.4">始，比如，握握他的手，摸摸他的头，或帮助</tspan><tspan x="2034" dy="18.4">整理衣服。从赞美着手，所有的人都渴望得到</tspan><tspan x="2034" dy="18.4">别人的理解和尊重，所以，和差生交谈时，对</tspan><tspan x="2034" dy="18.4">他的处境、想法表示深刻的理解和尊重，还有</tspan><tspan x="2034" dy="18.4">在批评学生之前，先谈谈自己工作的不足。</tspan></text></g>
<g id="k7"><rect class="bb" x="2027" y="2891" width="300" height="48.8" rx="6"/><text class="t bt" x="2034" y="2911.5"><tspan x="2034" dy="0">7、积极参与听课、评课，虚心向同行学习教</tspan><tspan x="2034" dy="18.4">学方法，博采众长，提高教学水平。</tspan></text></g>
<g id="k8"><rect class="bb" x="2027" y="2972" width="300" height="67.2" rx="6"/><text class="t bt" x="2034" y="2992.5"><tspan x="2034" dy="0">8、热爱学生，平等的对待每一个学生，让他</tspan><tspan x="2034" dy="18.4">们都感受到老师的关心，良好的师生关系促进</tspan><tspan x="2034" dy="18.4">了学生的学习。</tspan></text></g>
<g id="n-kaoqin"><rect class="bb" x="1700" y="3230" width="142" height="31" rx="6"/><text class="t bt" x="1707" y="3250.5">三、工作考勤方面：</text></g>
<g id="b-reai"><rect class="bb" x="1870" y="3073" width="300" height="177.6" rx="6"/><text class="t bt" x="1877" y="3093.5"><tspan x="1877" dy="0">我热爱自己的事业，从不因为个人的私事耽误</tspan><tspan x="1877" dy="18.4">工作的时间。并积极运用有效的工作时间做好</tspan><tspan x="1877" dy="18.4">自己分内的工作。在工作上，我严格要求自己</tspan><tspan x="1877" dy="18.4">，工作实干，并能完成学校给予的各项任务，</tspan><tspan x="1877" dy="18.4">为提高自身的素质，我不但积极参加各项培训</tspan><tspan x="1877" dy="18.4">，到各地听课学习，平时，经常查阅有关教学</tspan><tspan x="1877" dy="18.4">资料。同时经常在课外与学生联系，时时关心</tspan><tspan x="1877" dy="18.4">他们，当然在教学工作中存在着一些不足的地</tspan><tspan x="1877" dy="18.4">方，须在以后进一步的努力。</tspan></text></g>
<g id="b-zongeryanzhi"><rect class="bb" x="1870" y="3285" width="300" height="85.6" rx="6"/><text class="t bt" x="1877" y="3305.5"><tspan x="1877" dy="0">总而言之，现在社会对教师的素质要求更高，</tspan><tspan x="1877" dy="18.4">在今后的教育教学工作中，我将更严格要求自</tspan><tspan x="1877" dy="18.4">己，努力工作，发扬优点，改正缺点，开拓前</tspan><tspan x="1877" dy="18.4">进，为美好的明天作出自己奉献。</tspan></text></g>

<g id="watermark">
<text class="wm" x="649" y="540" text-anchor="middle" transform="rotate(-30 649 513)">树图 shutu.cn</text>
<text class="wm" x="649" y="1537" text-anchor="middle" transform="rotate(-30 649 1510)">树图 shutu.cn</text>
<text class="wm" x="649" y="2532" text-anchor="middle" transform="rotate(-30 649 2505)">树图 shutu.cn</text>
<text class="wm" x="649" y="3532" text-anchor="middle" transform="rotate(-30 649 3505)">树图 shutu.cn</text>
<text class="wm" x="1926" y="527" text-anchor="middle" transform="rotate(-30 1926 500)">树图 shutu.cn</text>
<text class="wm" x="1926" y="1544" text-anchor="middle" transform="rotate(-30 1926 1517)">树图 shutu.cn</text>
<text class="wm" x="1926" y="2527" text-anchor="middle" transform="rotate(-30 1926 2500)">树图 shutu.cn</text>
<text class="wm" x="1926" y="3527" text-anchor="middle" transform="rotate(-30 1926 3500)">树图 shutu.cn</text>
</g>
</svg>
